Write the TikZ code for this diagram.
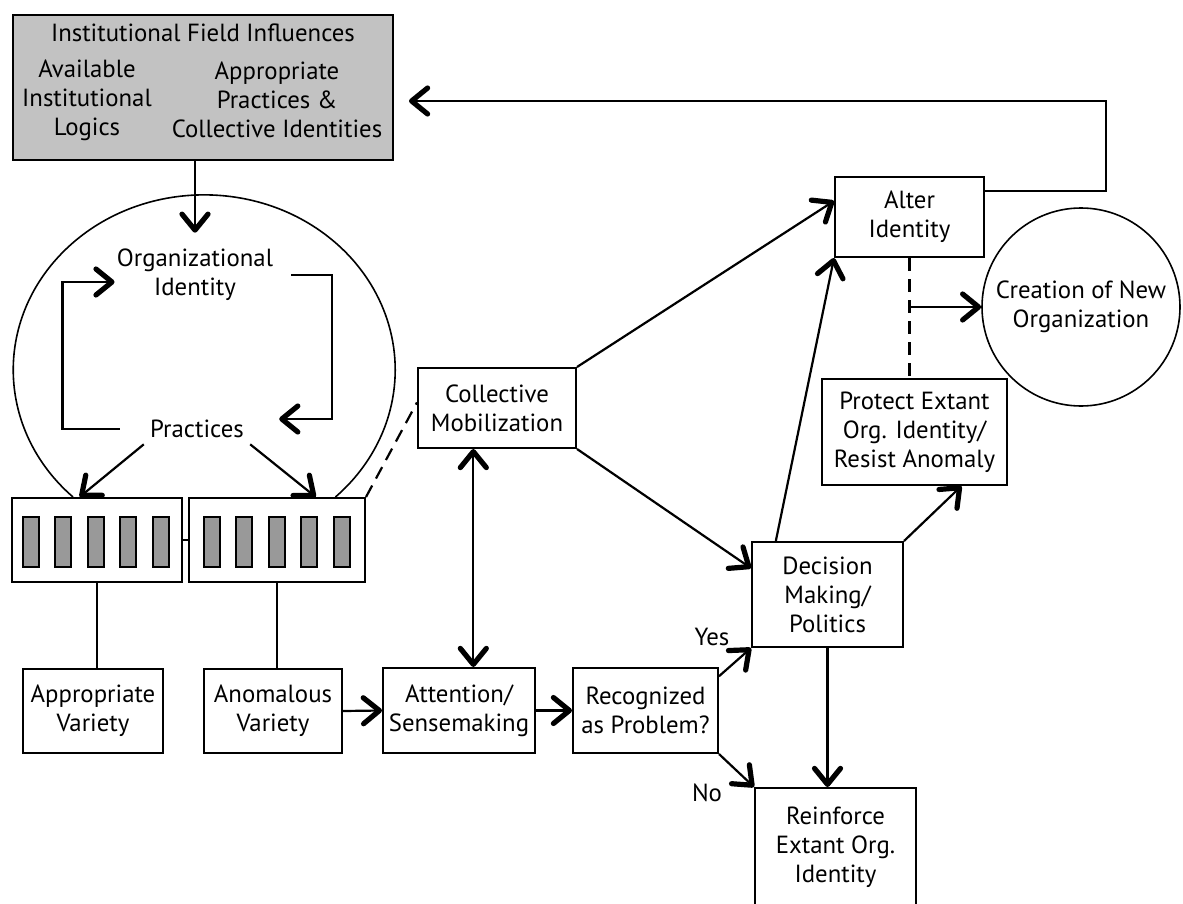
\documentclass[tikz,border=0pt]{standalone}
\usepackage{fontspec}
\newfontfamily\diagfont{PT Sans}
\usetikzlibrary{arrows.meta,calc,positioning}
\definecolor{fieldgray}{gray}{0.76}
\definecolor{bargray}{gray}{0.60}

\begin{document}
\begin{tikzpicture}[x=0.5pt,y=-0.5pt,
 every node/.style={font=\diagfont\fontsize{12.4}{14.5}\selectfont},
 stage/.style={draw,line width=1pt,align=center,inner sep=1pt},
 words/.style={align=center,inner sep=3pt},
 bar/.style={draw,line width=.9pt,fill=bargray},
 barb/.tip={Straight Barb[length=8pt,width=13pt,line width'=2.6pt,round]},
 forward/.style={-barb,line width=1.1pt},
 twoway/.style={barb-barb,line width=1.1pt},
 link/.style={line width=1.1pt},
 linkdash/.style={line width=1.1pt,dash pattern=on 6.5pt off 4pt}
]
\useasboundingbox (0,0) rectangle (1183,904);
\clip (0,0) rectangle (1183,904);

% field level
\node[stage,fill=fieldgray,minimum width=190pt,minimum height=72.5pt] (field) at (203,87.5) {};
\node[words] (fieldtitle) at (203,33) {Institutional Field Influences};
\node[words] (logics) at (87,100) {Available\\Institutional\\Logics};
\node[words] (collident) at (277,100) {Appropriate\\Practices \&\\Collective Identities};

% organization
\draw[line width=.8pt] (73,497) arc[start angle=226.6,end angle=-46.6,x radius=95.5pt,y radius=87.5pt];
\node[words] (orgid) at (195,275) {Organizational\\Identity};
\node[words] (practices) at (197,429) {Practices};

\node[stage,minimum width=85pt,minimum height=42pt] (leftbars) at (97,540) {};
\node[stage,minimum width=88pt,minimum height=42pt] (rightbars) at (277,540) {};
\foreach \bx in {31,63,96,128,161,212,244,277,309,342}
 \draw[bar] (\bx-8,517) rectangle (\bx+8,567);

% process boxes
\node[stage,minimum width=70pt,minimum height=42pt] (approp) at (93,711) {Appropriate\\Variety};
\node[stage,minimum width=69pt,minimum height=42pt] (anomal) at (273,711) {Anomalous\\Variety};
\node[stage,minimum width=76pt,minimum height=42.5pt] (attn) at (459,710.5) {Attention/\\Sensemaking};
\node[stage,minimum width=72.5pt,minimum height=42.5pt] (recog) at (645.5,710.5) {Recognized\\as Problem?};
\node[stage,minimum width=79pt,minimum height=40pt] (collmob) at (497,408) {Collective\\Mobilization};
\node[stage,minimum width=75.5pt,minimum height=52.5pt] (decision) at (827.5,594.5) {Decision\\Making/\\Politics};
\node[stage,minimum width=80.5pt,minimum height=59pt] (reinforce) at (835.5,847) {Reinforce\\Extant Org.\\Identity};
\node[stage,minimum width=74.5pt,minimum height=40pt] (alter) at (909.5,217) {Alter\\Identity};
\node[stage,minimum width=92.5pt,minimum height=53pt] (protect) at (914.5,432) {Protect Extant\\Org. Identity/\\Resist Anomaly};
\node[stage,circle,line width=.8pt,minimum size=99pt] (creation) at (1081,307) {Creation of New\\Organization};

\node[words] (yes) at (712,637) {Yes};
\node[words] (no) at (707,793) {No};

% connectors
\draw[forward,shorten >=5pt] (field.south -| orgid.north) -- (orgid.north);
\draw[forward] ([xshift=-12pt]practices.west) -| ([xshift=-24pt,yshift=-3.5pt]orgid.west) -- ([xshift=2pt,yshift=-3.5pt]orgid.west);
\coordinate (looptip) at ([xshift=14.5pt,yshift=5pt]practices.east);
\draw[forward] ([xshift=6pt]orgid.east) -| ([xshift=26.5pt]looptip) -- (looptip);
\draw[forward] (practices.south west) -- (leftbars.112);
\draw[forward] (practices.south east) -- (rightbars.48);

\draw[link] (leftbars.east) -- (rightbars.west);
\draw[link] (leftbars.south) -- (leftbars.south |- approp.north);
\draw[link] (rightbars.south) -- (rightbars.south |- anomal.north);
\draw[linkdash] (rightbars.north east) -- (collmob.176);

\draw[forward] (anomal.east) -- (attn.west);
\draw[forward] (attn.east) -- (recog.west);
\draw[twoway] (collmob.240) -- (collmob.240 |- attn.north);
\draw[forward] (recog.25) -- (decision.south west);
\draw[forward] (recog.south east) -- (reinforce.north west);
\draw[forward] (decision.south) -- (decision.south |- reinforce.north);

\draw[forward] (collmob.north east) -- (alter.168);
\draw[forward] (collmob.south east) -- (decision.161);
\draw[forward] (decision.134) -- (alter.south west);
\draw[forward] (decision.north east) -- (protect.-49);

\draw[linkdash] (alter.south) -- (alter.south |- protect.north);
\coordinate (split) at (alter.south |- creation.west);
\draw[forward] (split) -- (creation.west);

\coordinate (fbcorner) at (1106,101);
\draw[forward,shorten >=7.5pt] (alter.19) -| (fbcorner) -- (fbcorner -| field.east);
\end{tikzpicture}
\end{document}
